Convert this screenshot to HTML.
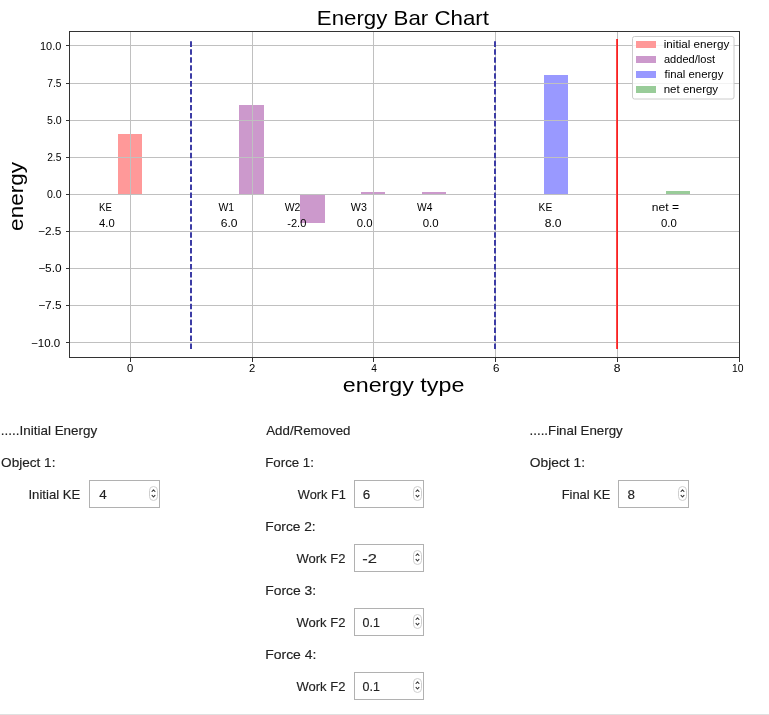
<!DOCTYPE html>
<html><head><meta charset="utf-8"><style>
html,body{margin:0;padding:0;background:#fff;width:769px;height:715px;overflow:hidden}
svg{display:block;font-family:"Liberation Sans",sans-serif;will-change:transform}
</style></head><body>
<svg width="769" height="715" viewBox="0 0 769 715">
<rect x="0" y="0" width="769" height="715" fill="#fff"/>
<g shape-rendering="crispEdges">
<rect x="118" y="134" width="24" height="60" fill="#ff9999"/>
<rect x="239" y="105" width="25" height="89" fill="#cc99cc"/>
<rect x="300" y="194" width="25" height="29" fill="#cc99cc"/>
<rect x="361" y="192" width="24" height="2" fill="#cc99cc"/>
<rect x="422" y="192" width="24" height="2" fill="#cc99cc"/>
<rect x="544" y="75" width="24" height="119" fill="#9999ff"/>
<rect x="666" y="191" width="24" height="3" fill="#99cc99"/>
<rect x="70" y="45" width="669" height="1" fill="#c0c0c0"/>
<rect x="70" y="83" width="669" height="1" fill="#c0c0c0"/>
<rect x="70" y="120" width="669" height="1" fill="#c0c0c0"/>
<rect x="70" y="157" width="669" height="1" fill="#c0c0c0"/>
<rect x="70" y="194" width="669" height="1" fill="#c0c0c0"/>
<rect x="70" y="231" width="669" height="1" fill="#c0c0c0"/>
<rect x="70" y="268" width="669" height="1" fill="#c0c0c0"/>
<rect x="70" y="305" width="669" height="1" fill="#c0c0c0"/>
<rect x="70" y="342" width="669" height="1" fill="#c0c0c0"/>
<rect x="130" y="32" width="1" height="325" fill="#c0c0c0"/>
<rect x="252" y="32" width="1" height="325" fill="#c0c0c0"/>
<rect x="373" y="32" width="1" height="325" fill="#c0c0c0"/>
<rect x="495" y="32" width="1" height="325" fill="#c0c0c0"/>
<rect x="617" y="32" width="1" height="325" fill="#c0c0c0"/>
</g>
<line x1="191" y1="349" x2="191" y2="39" stroke="#3c3ca5" stroke-width="2" stroke-dasharray="5.55 2.4"/>
<line x1="495" y1="349" x2="495" y2="39" stroke="#3c3ca5" stroke-width="2" stroke-dasharray="5.55 2.4"/>
<rect x="616" y="39" width="1" height="310" fill="#ff4646" shape-rendering="crispEdges"/>
<rect x="617" y="39" width="1" height="310" fill="#f52323" shape-rendering="crispEdges"/>
<g shape-rendering="crispEdges" fill="#333">
<rect x="69" y="31" width="671" height="1"/>
<rect x="69" y="357" width="671" height="1"/>
<rect x="69" y="31" width="1" height="327"/>
<rect x="739" y="31" width="1" height="327"/>
<rect x="66" y="45" width="3" height="1"/>
<rect x="66" y="83" width="3" height="1"/>
<rect x="66" y="120" width="3" height="1"/>
<rect x="66" y="157" width="3" height="1"/>
<rect x="66" y="194" width="3" height="1"/>
<rect x="66" y="231" width="3" height="1"/>
<rect x="66" y="268" width="3" height="1"/>
<rect x="66" y="305" width="3" height="1"/>
<rect x="66" y="342" width="3" height="1"/>
<rect x="130" y="358" width="1" height="4"/>
<rect x="252" y="358" width="1" height="4"/>
<rect x="373" y="358" width="1" height="4"/>
<rect x="495" y="358" width="1" height="4"/>
<rect x="617" y="358" width="1" height="4"/>
<rect x="739" y="358" width="1" height="4"/>
</g>
<text x="40.04" y="50.00" font-size="10.6" fill="#000" textLength="21.28" lengthAdjust="spacingAndGlyphs">10.0</text>
<text x="47.24" y="87.00" font-size="10.6" fill="#000" textLength="14.19" lengthAdjust="spacingAndGlyphs">7.5</text>
<text x="47.04" y="124.00" font-size="10.6" fill="#000" textLength="14.68" lengthAdjust="spacingAndGlyphs">5.0</text>
<text x="47.14" y="161.00" font-size="10.6" fill="#000" textLength="14.29" lengthAdjust="spacingAndGlyphs">2.5</text>
<text x="46.99" y="198.00" font-size="10.6" fill="#000" textLength="14.73" lengthAdjust="spacingAndGlyphs">0.0</text>
<text x="38.01" y="235.00" font-size="10.6" fill="#000" textLength="23.29" lengthAdjust="spacingAndGlyphs">−2.5</text>
<text x="38.21" y="272.00" font-size="10.6" fill="#000" textLength="23.37" lengthAdjust="spacingAndGlyphs">−5.0</text>
<text x="38.21" y="309.00" font-size="10.6" fill="#000" textLength="23.39" lengthAdjust="spacingAndGlyphs">−7.5</text>
<text x="31.03" y="347.00" font-size="10.6" fill="#000" textLength="29.11" lengthAdjust="spacingAndGlyphs">−10.0</text>
<text x="127.01" y="372.00" font-size="10.6" fill="#000" textLength="6.30" lengthAdjust="spacingAndGlyphs">0</text>
<text x="249.14" y="372.00" font-size="10.6" fill="#000" textLength="6.27" lengthAdjust="spacingAndGlyphs">2</text>
<text x="371.13" y="372.00" font-size="10.6" fill="#000" textLength="5.66" lengthAdjust="spacingAndGlyphs">4</text>
<text x="492.94" y="372.00" font-size="10.6" fill="#000" textLength="6.46" lengthAdjust="spacingAndGlyphs">6</text>
<text x="613.79" y="372.00" font-size="10.6" fill="#000" textLength="6.72" lengthAdjust="spacingAndGlyphs">8</text>
<text x="731.98" y="372.00" font-size="10.6" fill="#000" textLength="11.51" lengthAdjust="spacingAndGlyphs">10</text>
<text transform="translate(23.3,230.89) rotate(-90)" x="0" y="0" font-size="21" textLength="68.93" lengthAdjust="spacingAndGlyphs">energy</text>
<text x="316.78" y="25.20" font-size="21" fill="#000" textLength="172.23" lengthAdjust="spacingAndGlyphs">Energy Bar Chart</text>
<text x="342.78" y="392.30" font-size="21" fill="#000" textLength="121.59" lengthAdjust="spacingAndGlyphs">energy type</text>
<text x="99.00" y="211.00" font-size="10.6" fill="#000" textLength="12.78" lengthAdjust="spacingAndGlyphs">KE</text>
<text x="99.13" y="227.00" font-size="10.6" fill="#000" textLength="15.61" lengthAdjust="spacingAndGlyphs">4.0</text>
<text x="218.46" y="211.00" font-size="10.6" fill="#000" textLength="15.68" lengthAdjust="spacingAndGlyphs">W1</text>
<text x="220.72" y="227.00" font-size="10.6" fill="#000" textLength="16.76" lengthAdjust="spacingAndGlyphs">6.0</text>
<text x="284.76" y="211.00" font-size="10.6" fill="#000" textLength="15.68" lengthAdjust="spacingAndGlyphs">W2</text>
<text x="287.29" y="227.00" font-size="10.6" fill="#000" textLength="19.03" lengthAdjust="spacingAndGlyphs">-2.0</text>
<text x="350.86" y="211.00" font-size="10.6" fill="#000" textLength="15.98" lengthAdjust="spacingAndGlyphs">W3</text>
<text x="356.76" y="227.00" font-size="10.6" fill="#000" textLength="15.79" lengthAdjust="spacingAndGlyphs">0.0</text>
<text x="416.96" y="211.00" font-size="10.6" fill="#000" textLength="15.41" lengthAdjust="spacingAndGlyphs">W4</text>
<text x="422.65" y="227.00" font-size="10.6" fill="#000" textLength="15.90" lengthAdjust="spacingAndGlyphs">0.0</text>
<text x="538.60" y="211.00" font-size="10.6" fill="#000" textLength="13.62" lengthAdjust="spacingAndGlyphs">KE</text>
<text x="544.69" y="227.00" font-size="10.6" fill="#000" textLength="16.79" lengthAdjust="spacingAndGlyphs">8.0</text>
<text x="651.87" y="211.00" font-size="10.6" fill="#000" textLength="27.17" lengthAdjust="spacingAndGlyphs">net =</text>
<text x="661.06" y="227.00" font-size="10.6" fill="#000" textLength="15.79" lengthAdjust="spacingAndGlyphs">0.0</text>
<rect x="632.5" y="36.5" width="101.5" height="62.5" rx="2" ry="2" fill="#fff" fill-opacity="0.8" stroke="#cccccc" stroke-width="1"/>
<rect x="636" y="41" width="20" height="7" fill="#ff9999" shape-rendering="crispEdges"/>
<rect x="636" y="56" width="20" height="7" fill="#cc99cc" shape-rendering="crispEdges"/>
<rect x="636" y="71" width="20" height="7" fill="#9999ff" shape-rendering="crispEdges"/>
<rect x="636" y="86" width="20" height="7" fill="#99cc99" shape-rendering="crispEdges"/>
<text x="663.71" y="48.30" font-size="10.6" fill="#000" textLength="65.55" lengthAdjust="spacingAndGlyphs">initial energy</text>
<text x="663.94" y="63.30" font-size="10.6" fill="#000" textLength="51.07" lengthAdjust="spacingAndGlyphs">added/lost</text>
<text x="664.54" y="78.30" font-size="10.6" fill="#000" textLength="58.80" lengthAdjust="spacingAndGlyphs">final energy</text>
<text x="663.70" y="93.30" font-size="10.6" fill="#000" textLength="54.45" lengthAdjust="spacingAndGlyphs">net energy</text>
<rect x="89.5" y="480.5" width="70" height="27" fill="#fff" stroke="#b1b1b1" stroke-width="1"/>
<rect x="149.5" y="486.5" width="8" height="14" rx="4" ry="4" fill="#fff" stroke="#cfcfcf" stroke-width="1"/>
<path d="M152.05 491.50 L153.50 489.80 L154.95 491.50 M152.05 495.30 L153.50 497.00 L154.95 495.30" fill="none" stroke="#3a3a3a" stroke-width="1.1" stroke-linecap="round" stroke-linejoin="round"/>
<rect x="354.5" y="480.5" width="69" height="27" fill="#fff" stroke="#b1b1b1" stroke-width="1"/>
<rect x="413.5" y="486.5" width="8" height="14" rx="4" ry="4" fill="#fff" stroke="#cfcfcf" stroke-width="1"/>
<path d="M416.05 491.50 L417.50 489.80 L418.95 491.50 M416.05 495.30 L417.50 497.00 L418.95 495.30" fill="none" stroke="#3a3a3a" stroke-width="1.1" stroke-linecap="round" stroke-linejoin="round"/>
<rect x="618.5" y="480.5" width="70" height="27" fill="#fff" stroke="#b1b1b1" stroke-width="1"/>
<rect x="678.5" y="486.5" width="8" height="14" rx="4" ry="4" fill="#fff" stroke="#cfcfcf" stroke-width="1"/>
<path d="M681.05 491.50 L682.50 489.80 L683.95 491.50 M681.05 495.30 L682.50 497.00 L683.95 495.30" fill="none" stroke="#3a3a3a" stroke-width="1.1" stroke-linecap="round" stroke-linejoin="round"/>
<rect x="354.5" y="544.5" width="69" height="27" fill="#fff" stroke="#b1b1b1" stroke-width="1"/>
<rect x="413.5" y="550.5" width="8" height="14" rx="4" ry="4" fill="#fff" stroke="#cfcfcf" stroke-width="1"/>
<path d="M416.05 555.50 L417.50 553.80 L418.95 555.50 M416.05 559.30 L417.50 561.00 L418.95 559.30" fill="none" stroke="#3a3a3a" stroke-width="1.1" stroke-linecap="round" stroke-linejoin="round"/>
<rect x="354.5" y="608.5" width="69" height="27" fill="#fff" stroke="#b1b1b1" stroke-width="1"/>
<rect x="413.5" y="614.5" width="8" height="14" rx="4" ry="4" fill="#fff" stroke="#cfcfcf" stroke-width="1"/>
<path d="M416.05 619.50 L417.50 617.80 L418.95 619.50 M416.05 623.30 L417.50 625.00 L418.95 623.30" fill="none" stroke="#3a3a3a" stroke-width="1.1" stroke-linecap="round" stroke-linejoin="round"/>
<rect x="354.5" y="672.5" width="69" height="27" fill="#fff" stroke="#b1b1b1" stroke-width="1"/>
<rect x="413.5" y="678.5" width="8" height="14" rx="4" ry="4" fill="#fff" stroke="#cfcfcf" stroke-width="1"/>
<path d="M416.05 683.50 L417.50 681.80 L418.95 683.50 M416.05 687.30 L417.50 689.00 L418.95 687.30" fill="none" stroke="#3a3a3a" stroke-width="1.1" stroke-linecap="round" stroke-linejoin="round"/>
<g stroke="#222" stroke-width="0.15"><text x="0.84" y="435.00" font-size="13.4" fill="#222" textLength="96.41" lengthAdjust="spacingAndGlyphs">.....Initial Energy</text>
<text x="1.11" y="467.00" font-size="13.4" fill="#222" textLength="54.34" lengthAdjust="spacingAndGlyphs">Object 1:</text>
<text x="28.45" y="499.00" font-size="13.4" fill="#222" textLength="51.93" lengthAdjust="spacingAndGlyphs">Initial KE</text>
<text x="99.22" y="499.00" font-size="13.4" fill="#222">4</text>
<text x="266.24" y="435.00" font-size="13.4" fill="#222" textLength="84.20" lengthAdjust="spacingAndGlyphs">Add/Removed</text>
<text x="265.28" y="467.00" font-size="13.4" fill="#222" textLength="48.68" lengthAdjust="spacingAndGlyphs">Force 1:</text>
<text x="297.84" y="499.00" font-size="13.4" fill="#222" textLength="48.03" lengthAdjust="spacingAndGlyphs">Work F1</text>
<text x="362.79" y="499.00" font-size="13.4" fill="#222">6</text>
<text x="265.25" y="531.00" font-size="13.4" fill="#222" textLength="50.45" lengthAdjust="spacingAndGlyphs">Force 2:</text>
<text x="296.44" y="563.00" font-size="13.4" fill="#222" textLength="48.94" lengthAdjust="spacingAndGlyphs">Work F2</text>
<text x="362.29" y="563.00" font-size="13.4" fill="#222" textLength="14.67" lengthAdjust="spacingAndGlyphs">-2</text>
<text x="265.24" y="595.00" font-size="13.4" fill="#222" textLength="50.97" lengthAdjust="spacingAndGlyphs">Force 3:</text>
<text x="296.44" y="627.00" font-size="13.4" fill="#222" textLength="48.94" lengthAdjust="spacingAndGlyphs">Work F2</text>
<text x="362.56" y="627.00" font-size="13.4" fill="#222" textLength="17.34" lengthAdjust="spacingAndGlyphs">0.1</text>
<text x="265.23" y="659.00" font-size="13.4" fill="#222" textLength="51.18" lengthAdjust="spacingAndGlyphs">Force 4:</text>
<text x="296.44" y="691.00" font-size="13.4" fill="#222" textLength="48.94" lengthAdjust="spacingAndGlyphs">Work F2</text>
<text x="362.56" y="691.00" font-size="13.4" fill="#222" textLength="17.34" lengthAdjust="spacingAndGlyphs">0.1</text>
<text x="529.54" y="435.00" font-size="13.4" fill="#222" textLength="93.22" lengthAdjust="spacingAndGlyphs">.....Final Energy</text>
<text x="529.80" y="467.00" font-size="13.4" fill="#222" textLength="55.17" lengthAdjust="spacingAndGlyphs">Object 1:</text>
<text x="561.70" y="499.00" font-size="13.4" fill="#222" textLength="48.74" lengthAdjust="spacingAndGlyphs">Final KE</text>
<text x="627.54" y="499.00" font-size="13.4" fill="#222">8</text></g>
<rect x="0" y="714" width="769" height="1" fill="#e0e0e0"/>
</svg>
</body></html>
